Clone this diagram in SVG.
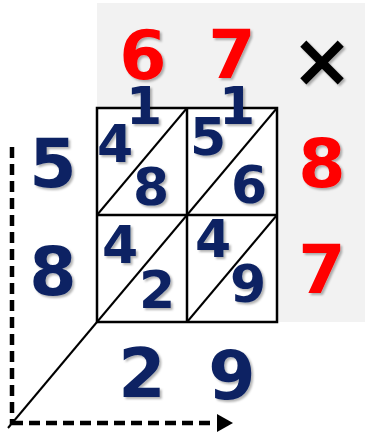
<svg xmlns="http://www.w3.org/2000/svg" width="365" height="433" viewBox="0 0 365 433">
<defs>
<filter id="sh" x="-20%" y="-20%" width="150%" height="150%">
<feDropShadow dx="2" dy="2" stdDeviation="1.2" flood-color="#000" flood-opacity="0.3"/>
</filter>
<style>
text{font-family:"DejaVu Sans","Liberation Sans",sans-serif;font-weight:bold;text-anchor:middle;filter:url(#sh)}
.big{font-size:68px}
.sm{font-size:52px}
.red{fill:#ff0000}
.blue{fill:#0d2463}
.blk{fill:#000}
.grid{fill:#fff;stroke:#000;stroke-width:2.5}
.diag{stroke:#000;stroke-width:2;fill:none}
.dash{stroke:#000;stroke-width:4.5;stroke-dasharray:11 6;fill:none}
</style>
</defs>
<rect x="97" y="3" width="268" height="319" fill="#f2f2f2"/>
<g id="grid">
<rect class="grid" x="97" y="108" width="180" height="214"/>
<line class="grid" x1="187" y1="108" x2="187" y2="322"/>
<line class="grid" x1="97" y1="215" x2="277" y2="215"/>
</g>
<g id="connectors">
<line class="diag" x1="97" y1="215" x2="187" y2="108"/>
<line class="diag" x1="187" y1="215" x2="277" y2="108"/>
<line class="diag" x1="97" y1="322" x2="187" y2="215"/>
<line class="diag" x1="187" y1="322" x2="277" y2="215"/>
<line class="diag" x1="97" y1="322" x2="8" y2="428"/>
<line class="dash" x1="12" y1="147" x2="12" y2="425"/>
<path d="M12,423 L212,423" class="dash"/>
<path d="M217,414 L233,423 L217,432 z" fill="#000"/>
</g>
<g id="top-6"><text class="big red" x="143" y="79">6</text></g>
<g id="top-7"><text class="big red" x="232" y="78">7</text></g>
<g id="times"><text class="blk" x="322" y="86" style="font-size:74px">×</text></g>
<g id="left-5"><text class="big blue" x="53" y="187">5</text></g>
<g id="left-8"><text class="big blue" x="53" y="295">8</text></g>
<g id="right-8"><text class="big red" x="322" y="187">8</text></g>
<g id="right-7"><text class="big red" x="322" y="293">7</text></g>
<g id="bottom-2"><text class="big blue" x="142" y="397">2</text></g>
<g id="bottom-9"><text class="big blue" x="232" y="399">9</text></g>
<g id="carry-1a"><text class="sm blue" x="144" y="124">1</text></g>
<g id="carry-1b"><text class="sm blue" x="237" y="124">1</text></g>
<g id="c-tl"><text class="sm blue" x="115" y="162">4</text><text class="sm blue" x="151" y="205">8</text></g>
<g id="c-tr"><text class="sm blue" x="208" y="155">5</text><text class="sm blue" x="249" y="203">6</text></g>
<g id="c-bl"><text class="sm blue" x="120" y="263">4</text><text class="sm blue" x="157" y="308">2</text></g>
<g id="c-br"><text class="sm blue" x="213" y="257">4</text><text class="sm blue" x="248" y="302">9</text></g>
</svg>
